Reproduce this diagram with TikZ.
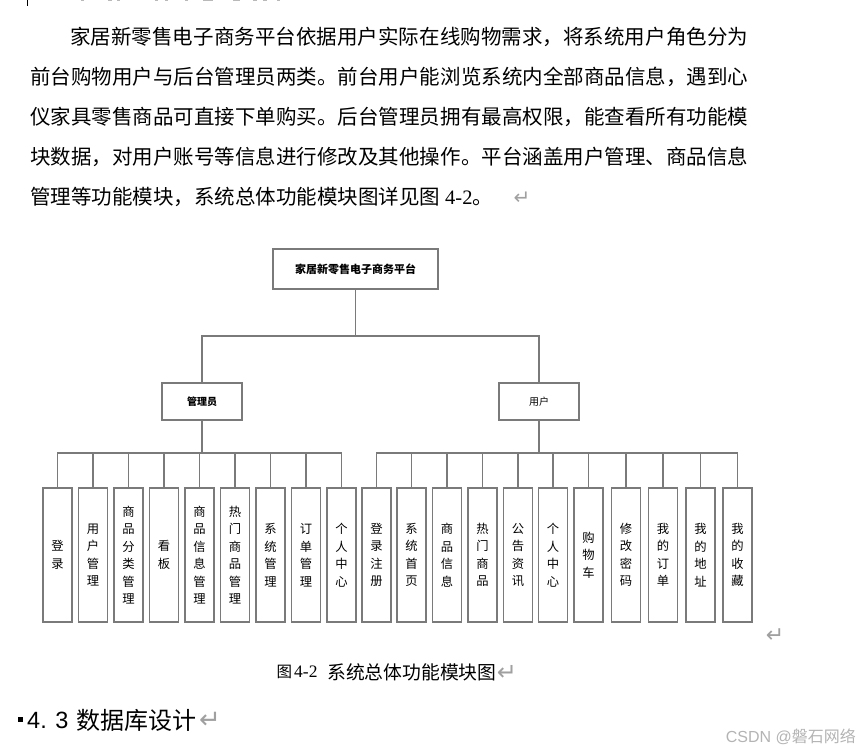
\documentclass[tikz,border=0pt]{standalone}
\usepackage{fontspec}
\setmainfont{Noto Sans CJK SC}
\newfontfamily\tnr{Liberation Serif}
\newfontfamily\ars{Liberation Sans}
\newfontfamily\dvs{DejaVu Sans}
\def\jspread#1{#1\jspreadnext}
\def\jspreadnext#1{\ifx#1\relax\else\hfil#1\expandafter\jspreadnext\fi}
\definecolor{lineg}{HTML}{7A7A7A}
\definecolor{retg}{HTML}{A0A0A0}
\definecolor{wmg}{HTML}{B4B4B4}
\begin{document}
\begin{tikzpicture}[x=1pt,y=-1pt,
  box/.style={draw=lineg,line width=1.1pt,inner sep=0pt,fill=white},
  leaf/.style={box,minimum width=29pt,minimum height=134pt,align=center,font=\fontsize{12.3}{17.5}\selectfont},
  conn/.style={draw=lineg,line width=1.1pt},
  ret/.style={text=retg,font=\dvs\fontsize{20}{20}\selectfont,inner sep=0pt},
  para/.style={anchor=west,inner sep=0pt,font=\fontsize{20.5}{20.5}\selectfont}]
\fill[white] (0,0) rectangle (859,752);
\useasboundingbox (0,0) rectangle (859,752);

% top remnants
\draw[line width=1pt] (27.5,0) -- (27.5,6);
\foreach \a/\b in {81/84,108/112,117/120,155/158,165/168,185/188,203/213,233/240,253/257,263/267,277/280}
  \fill[gray!55] (\a,0) rectangle (\b,1.4);

% paragraph
\node[para] (p1) at (70,37) {\hbox to 678pt{\jspread 家居新零售电子商务平台依据用户实际在线购物需求，将系统用户角色分为\relax}};
\node[para] (p2) at (30,77) {\hbox to 718pt{\jspread 前台购物用户与后台管理员两类。前台用户能浏览系统内全部商品信息，遇到心\relax}};
\node[para] (p3) at (30,117) {\hbox to 718pt{\jspread 仪家具零售商品可直接下单购买。后台管理员拥有最高权限，能查看所有功能模\relax}};
\node[para] (p4) at (30,157) {\hbox to 718pt{\jspread 块数据，对用户账号等信息进行修改及其他操作。平台涵盖用户管理、商品信息\relax}};
\node[para] (p5) at (30,197) {管理等功能模块，系统总体功能模块图详见图\hspace{5pt}{\tnr 4-2}。};
\node[ret] (r1) at (522,198) {↵};

% diagram
\node[box,minimum width=165pt,minimum height=40pt,font=\bfseries\fontsize{11}{11}\selectfont] (top) at (355.5,269) {家居新零售电子商务平台};
\node[box,minimum width=80pt,minimum height=37pt,font=\bfseries\fontsize{10}{10}\selectfont] (adm) at (202,401.5) {管理员};
\node[box,minimum width=80pt,minimum height=37pt,font=\fontsize{10}{10}\selectfont] (usr) at (539,401.5) {用户};
\coordinate (bus0) at (355.5,336);
\coordinate (busL) at (202,453);
\coordinate (busR) at (539,453);
\draw[conn] (top.south) -- (bus0);
\draw[conn] (adm.north) |- (bus0) -| (usr.north);
\draw[conn] (adm.south) -- (busL);
\draw[conn] (usr.south) -- (busR);

\node[leaf] (L1) at (57.5,555) {登\\录};
\node[leaf] (L2) at (93,555) {用\\户\\管\\理};
\node[leaf] (L3) at (128.5,555) {商\\品\\分\\类\\管\\理};
\node[leaf] (L4) at (164,555) {看\\板};
\node[leaf] (L5) at (199.5,555) {商\\品\\信\\息\\管\\理};
\node[leaf] (L6) at (235,555) {热\\门\\商\\品\\管\\理};
\node[leaf] (L7) at (270.5,555) {系\\统\\管\\理};
\node[leaf] (L8) at (306,555) {订\\单\\管\\理};
\node[leaf] (L9) at (341.5,555) {个\\人\\中\\心};

\node[leaf] (R1) at (376.5,555) {登\\录\\注\\册};
\node[leaf] (R2) at (411.5,555) {系\\统\\首\\页};
\node[leaf] (R3) at (447,555) {商\\品\\信\\息};
\node[leaf] (R4) at (482.5,555) {热\\门\\商\\品};
\node[leaf] (R5) at (518,555) {公\\告\\资\\讯};
\node[leaf] (R6) at (553,555) {个\\人\\中\\心};
\node[leaf] (R7) at (588.5,555) {购\\物\\车};
\node[leaf] (R8) at (626,555) {修\\改\\密\\码};
\node[leaf] (R9) at (663,555) {我\\的\\订\\单};
\node[leaf] (R10) at (700.5,555) {我\\的\\地\\址};
\node[leaf] (R11) at (737.5,555) {我\\的\\收\\藏};

\foreach \i in {1,...,9} \draw[conn] (L\i.north) |- (busL);
\foreach \i in {1,...,11} \draw[conn] (R\i.north) |- (busR);

\node[ret,font=\dvs\fontsize{22}{22}\selectfont] (r2) at (775,636) {↵};

% caption
\node[anchor=west,inner sep=0pt,font=\fontsize{15.5}{15.5}\selectfont] (c1) at (276.5,672) {图};
\node[anchor=west,inner sep=0pt,font=\tnr\fontsize{17.5}{17.5}\selectfont] (c2) at (294,672) {4-2};
\node[anchor=west,inner sep=0pt,font=\fontsize{18.8}{18.8}\selectfont] (c3) at (327,672) {系统总体功能模块图};
\node[ret,font=\dvs\fontsize{24}{24}\selectfont] (c4) at (507,673) {↵};

% heading
\fill (18,717) rectangle (23,722);
\node[anchor=west,inner sep=0pt,font=\ars\fontsize{23.5}{23.5}\selectfont] (h1) at (27,720) {4. 3};
\node[anchor=west,inner sep=0pt,font=\fontsize{24}{24}\selectfont] (h2) at (76,720) {数据库设计};
\node[ret,font=\dvs\fontsize{26}{26}\selectfont] (h3) at (210,720) {↵};

% watermark
\node[anchor=east,inner sep=0pt,text=wmg,font=\fontsize{16}{16}\selectfont] (wm) at (856,737) {{\ars CSDN @}磐石网络};
\end{tikzpicture}
\end{document}
